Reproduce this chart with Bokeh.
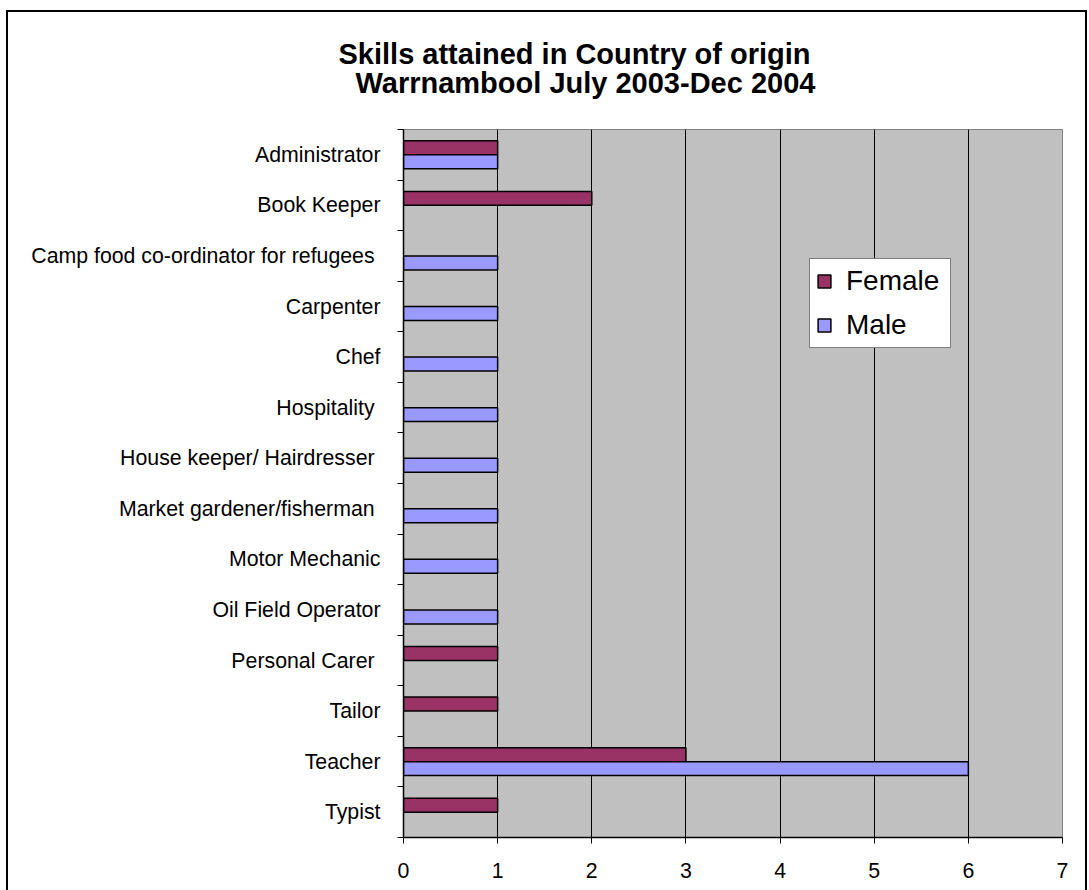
from bokeh.plotting import figure
from bokeh.models import Range1d, FixedTicker, ColumnDataSource, Title
from bokeh.embed import file_html
from bokeh.resources import INLINE

# ---------------- data ----------------
categories = ["Administrator", "Book Keeper", "Camp food co-ordinator for refugees ", "Carpenter",
              "Chef", "Hospitality ", "House keeper/ Hairdresser ", "Market gardener/fisherman ",
              "Motor Mechanic", "Oil Field Operator", "Personal Carer ", "Tailor", "Teacher", "Typist"]
female = [1, 2, 0, 0, 0, 0, 0, 0, 0, 0, 1, 1, 3, 1]
male = [1, 0, 1, 1, 1, 1, 1, 1, 1, 1, 0, 0, 6, 0]
series_names = ["Female", "Male"]
x_ticks = [0, 1, 2, 3, 4, 5, 6, 7]
title_lines = ["Skills attained in Country of origin", "Warrnambool July 2003-Dec 2004"]

FONT = "Liberation Sans"
FEMALE_COLOR = "#993366"
MALE_COLOR = "#9999FF"

n = len(categories)
slot = {c: n - i - 0.5 for i, c in enumerate(categories)}   # category slot centre (top = first)
BAR_H = 0.276
OFF = BAR_H / 2

p = figure(width=1081, height=880,
           y_range=Range1d(0, n), x_range=Range1d(x_ticks[0], x_ticks[-1]),
           output_backend="svg", toolbar_location=None,
           min_border_left=397, min_border_right=25, min_border_top=119, min_border_bottom=53,
           margin=(10, 2, 0, 6))
p.styles = {"box-shadow": "inset 2px 2px 0 0 black, inset -2px 0 0 0 black"}
p.border_fill_color = None
p.background_fill_color = "#C0C0C0"
p.outline_line_color = "#808080"
p.outline_line_width = 1

# y axis: labels at slot centres, ticks at slot boundaries
centres = [slot[c] for c in categories]
p.yaxis.ticker = FixedTicker(ticks=centres, minor_ticks=list(range(n + 1)))
p.yaxis.major_label_overrides = {slot[c]: c for c in categories}
p.yaxis.major_tick_line_color = None
p.yaxis.major_tick_out = 0
p.yaxis.major_tick_in = 0
p.yaxis.minor_tick_out = 6
p.yaxis.minor_tick_in = 0
p.yaxis.minor_tick_line_color = "black"
p.yaxis.axis_line_color = "black"
p.yaxis.axis_line_width = 1.5
p.yaxis.major_label_standoff = 17
p.yaxis.major_label_text_font = FONT
p.yaxis.major_label_text_font_size = "21.3px"
p.yaxis.major_label_text_color = "black"

# x axis
p.xaxis.ticker = FixedTicker(ticks=x_ticks)
p.xaxis.major_tick_out = 6
p.xaxis.major_tick_in = 0
p.xaxis.minor_tick_line_color = None
p.xaxis.axis_line_color = "black"
p.xaxis.axis_line_width = 1.5
p.xaxis.major_tick_line_color = "black"
p.xaxis.major_label_text_font = FONT
p.xaxis.major_label_text_font_size = "21.3px"
p.xaxis.major_label_text_color = "black"
p.xaxis.major_label_standoff = 19

p.xgrid.ticker = FixedTicker(ticks=x_ticks)
p.xgrid.grid_line_color = "black"
p.xgrid.grid_line_width = 1
p.ygrid.grid_line_color = None

# bars
src_f = ColumnDataSource(dict(y=[slot[c] + OFF for c, v in zip(categories, female) if v],
                              val=[v for v in female if v]))
src_m = ColumnDataSource(dict(y=[slot[c] - OFF for c, v in zip(categories, male) if v],
                              val=[v for v in male if v]))
p.hbar(y="y", left=0, right="val", height=BAR_H, source=src_f,
       fill_color=FEMALE_COLOR, line_color="black", line_width=1.5, legend_label=series_names[0])
p.hbar(y="y", left=0, right="val", height=BAR_H, source=src_m,
       fill_color=MALE_COLOR, line_color="black", line_width=1.5, legend_label=series_names[1])

# legend
lg = p.legend[0]
lg.location = (406, 489)
lg.label_text_font = FONT
lg.label_text_font_size = "28px"
lg.label_text_color = "black"
lg.glyph_width = 16
lg.glyph_height = 16
lg.label_standoff = 14
lg.label_width = 98
lg.padding = 6
lg.spacing = 12
lg.margin = 0
lg.border_line_color = "black"
lg.border_line_width = 1
lg.background_fill_color = "white"
lg.background_fill_alpha = 1

# title (two lines, stacked above the frame)
t2 = Title(text=title_lines[1], align="left", offset=-48, standoff=62,
           text_font=FONT, text_font_size="29px", text_font_style="bold", text_color="black")
t1 = Title(text=title_lines[0], align="left", offset=-65, standoff=-72,
           text_font=FONT, text_font_size="29px", text_font_style="bold", text_color="black")
p.add_layout(t2, "above")
p.add_layout(t1, "above")

open("out.html", "w").write(file_html(p, INLINE))
